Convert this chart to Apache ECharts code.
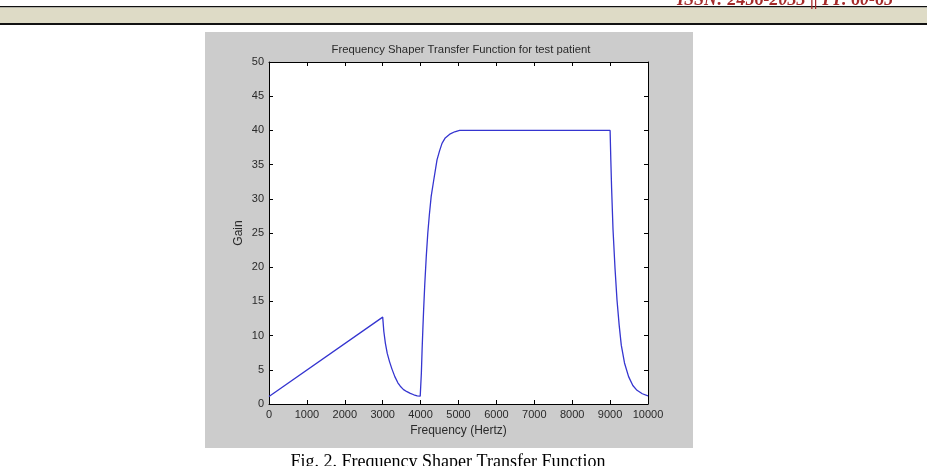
<!DOCTYPE html>
<html>
<head>
<meta charset="utf-8">
<script src="https://cdn.jsdelivr.net/npm/echarts@6/dist/echarts.min.js"></script>
<style>
  html, body { margin: 0; padding: 0; background: #fff; }
  #main { width: 927px; height: 466px; }
</style>
</head>
<body>
<div id="main"></div>
<script>
// values: [frequency in Hz, gain]
const rampPoints = [[0, 1.1], [3000, 12.7]];
const decayPoints = [
  [3030, 10.6], [3070, 8.9], [3120, 7.4], [3180, 6.2], [3245, 5.1],
  [3320, 4.0], [3400, 3.1], [3464, 2.6], [3550, 2.1], [3640, 1.8],
  [3728, 1.55], [3820, 1.35], [3910, 1.2], [3990, 1.15], [4000, 1.0],
];
const risePoints = [
  [4020, 4.5], [4040, 8.0], [4060, 11.0], [4080, 13.8], [4110, 17.5],
  [4150, 21.6], [4190, 25.0], [4230, 27.6], [4280, 30.4], [4343, 32.6],
  [4433, 35.7], [4500, 37.0], [4565, 38.1], [4650, 38.9], [4784, 39.5],
  [4900, 39.8], [5030, 40],
];
const plateauPoints = [[9000, 40]];
const fallPoints = [
  [9020, 35.5], [9040, 31.5], [9077, 25.5], [9130, 19.8], [9182, 15.2],
  [9240, 11.5], [9295, 8.6], [9380, 6.0], [9488, 4.0], [9600, 2.7],
  [9710, 2.0], [9850, 1.5], [10000, 1.2],
];
const xTicks = [0, 1000, 2000, 3000, 4000, 5000, 6000, 7000, 8000, 9000, 10000];
const yTicks = [0, 5, 10, 15, 20, 25, 30, 35, 40, 45, 50];

const curve = [].concat(rampPoints, decayPoints, risePoints, plateauPoints, fallPoints);

const sans = "'Liberation Sans Narrow', 'Liberation Sans', Arial, sans-serif";
const textColor = "#2a2a2a";

const chart = echarts.init(document.getElementById("main"));

const frameAxis = {
  type: "value",
  axisLine: { show: true, onZero: false, lineStyle: { color: "#000", width: 1 } },
  axisTick: { show: true, inside: true, length: 4, lineStyle: { color: "#000" } },
  splitLine: { show: false },
};

const options = {
  animation: false,
  backgroundColor: "#fff",
  title: {
    text: "Frequency Shaper Transfer Function for test patient",
    left: 456,
    top: 39,
    textAlign: "center",
    textStyle: { fontFamily: sans, fontSize: 11.3, fontWeight: "normal", color: textColor },
  },
  grid: {
    left: 269,
    top: 62,
    width: 379,
    height: 342,
    show: true,
    backgroundColor: "#fff",
    borderWidth: 0,
    containLabel: false,
  },
  graphic: [
    // grey figure panel
    { type: "rect", z: -10, shape: { x: 205, y: 32, width: 488, height: 416 }, style: { fill: "#cccccc" } },
    // page header band
    { type: "rect", shape: { x: 0, y: 6, width: 927, height: 1.6 }, style: { fill: "#111" } },
    { type: "rect", shape: { x: 0, y: 7.6, width: 927, height: 15.4 }, style: { fill: "#dedbc6" } },
    { type: "rect", shape: { x: 0, y: 23, width: 927, height: 2 }, style: { fill: "#111" } },
    {
      type: "text", x: 893, y: 0,
      style: {
        text: "ISSN: 2456-2033 || PP. 60-65",
        fill: "#a52a2a",
        font: "italic bold 18px 'Liberation Serif', serif",
        textAlign: "right", textVerticalAlign: "middle",
      },
    },
    {
      type: "text", x: 448, y: 462,
      style: {
        text: "Fig. 2. Frequency Shaper Transfer Function",
        fill: "#000",
        font: "18px 'Liberation Serif', serif",
        textAlign: "center", textVerticalAlign: "middle",
      },
    },
  ],
  xAxis: [
    Object.assign({}, frameAxis, {
      position: "bottom",
      min: xTicks[0],
      max: xTicks[xTicks.length - 1],
      interval: 1000,
      name: "Frequency (Hertz)",
      nameLocation: "middle",
      nameGap: 21,
      nameTextStyle: { fontFamily: sans, fontSize: 12, color: textColor },
      axisLabel: {
        margin: 5, fontFamily: sans, fontSize: 11, color: textColor,
        formatter: (v) => String(v),
      },
    }),
    Object.assign({}, frameAxis, {
      position: "top",
      min: xTicks[0],
      max: xTicks[xTicks.length - 1],
      interval: 1000,
      axisLabel: { show: false },
    }),
  ],
  yAxis: [
    Object.assign({}, frameAxis, {
      position: "left",
      min: yTicks[0],
      max: yTicks[yTicks.length - 1],
      interval: 5,
      name: "Gain",
      nameLocation: "middle",
      nameGap: 24,
      nameTextStyle: { fontFamily: sans, fontSize: 12, color: textColor },
      axisLabel: { margin: 5, fontFamily: sans, fontSize: 11, color: textColor },
    }),
    Object.assign({}, frameAxis, {
      position: "right",
      min: yTicks[0],
      max: yTicks[yTicks.length - 1],
      interval: 5,
      axisLabel: { show: false },
    }),
  ],
  series: [
    {
      type: "line",
      data: curve,
      showSymbol: false,
      smooth: false,
      lineStyle: { color: "#3535d0", width: 1.3 },
    },
  ],
};

chart.setOption(options);
</script>
</body>
</html>
